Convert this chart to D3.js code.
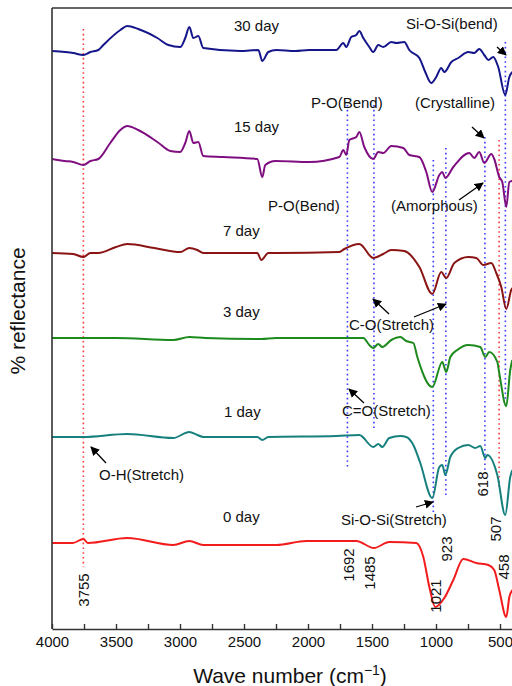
<!DOCTYPE html>
<html><head><meta charset="utf-8">
<script src="https://cdn.jsdelivr.net/npm/d3@7"></script>
<style>
html,body{margin:0;padding:0;background:#fff;}
svg{display:block;font-family:"Liberation Sans",Arial,Helvetica,sans-serif;}
</style></head>
<body><svg id="chart" width="512" height="686"></svg>
<script>
// ---------- DATA (wavenumber cm^-1, reflectance a.u. with stacking offset) ----------
const day30 = [[4000,578],[3900,577],[3834,576],[3755,574],[3700,577],[3638,579],[3599,584],[3466,599],[3412,603],[3326,600],[3177,591],[3091,584],[2998,582],[2959,591],[2927,602],[2896,591],[2857,593],[2818,581],[2529,578],[2388,579],[2357,568],[2310,577],[2248,579],[2100,578],[1990,579],[1779,579],[1724,586],[1701,582],[1662,592],[1623,594],[1599,598],[1568,591],[1521,582],[1490,577],[1451,584],[1412,582],[1349,587],[1310,586],[1248,587],[1209,579],[1130,571],[1084,557],[1037,546],[998,552],[959,561],[935,557],[880,567],[826,571],[748,577],[701,576],[662,580],[623,574],[591,569],[553,572],[514,562],[459,534],[427,552],[404,557]];
const day15 = [[4000,470],[3900,468],[3834,467],[3755,464],[3700,468],[3638,470],[3545,486],[3466,499],[3412,503],[3326,499],[3177,487],[3076,478],[2998,477],[2959,486],[2927,498],[2896,486],[2857,487],[2818,473],[2662,472],[2396,470],[2357,452],[2334,464],[2255,468],[1990,467],[1755,472],[1724,479],[1701,474],[1677,489],[1623,492],[1599,497],[1560,482],[1490,470],[1451,477],[1412,476],[1349,483],[1255,481],[1209,474],[1130,472],[1076,457],[1029,437],[974,454],[951,457],[927,451],[865,462],[740,476],[701,471],[662,477],[623,466],[568,475],[545,470],[506,452],[482,447],[451,422],[427,447],[404,448]];
const day7 = [[4000,376],[3834,375],[3755,372],[3700,376],[3638,376],[3500,382],[3412,385],[3200,381],[2998,377],[2927,381],[2865,379],[2818,376],[2396,376],[2365,369],[2310,376],[2248,376],[1755,377],[1716,380],[1599,385],[1490,371],[1412,375],[1349,379],[1248,378],[1130,362],[1029,335],[959,357],[920,351],[857,366],[748,372],[685,371],[630,364],[568,366],[529,356],[490,342],[451,320],[412,339],[404,341]];
const day3 = [[4000,291],[3755,291],[3500,291],[3052,289],[2927,292],[2800,291],[2365,290],[2248,291],[1779,291],[1568,291],[1521,284],[1490,281],[1451,285],[1420,282],[1349,289],[1279,292],[1232,288],[1177,286],[1146,272],[1029,242],[951,267],[920,257],[888,272],[834,279],[748,284],[654,282],[615,272],[584,277],[521,267],[506,256],[451,223],[420,259],[404,269]];
const day1 = [[4000,192],[3755,192],[3412,195],[3052,191],[2927,197],[2865,194],[2818,192],[2396,192],[2357,189],[2310,192],[1779,193],[1599,194],[1490,182],[1451,185],[1420,182],[1365,191],[1279,193],[1232,192],[1177,184],[1123,166],[1029,131],[974,162],[951,164],[927,154],[888,172],[826,181],[748,184],[693,181],[654,183],[615,171],[599,174],[521,154],[459,114],[420,152],[404,159]];
const day0 = [[4000,86],[3838,86],[3755,90],[3720,86],[3412,91],[3052,84],[2927,88],[2818,84],[2248,84],[2013,88],[1623,88],[1485,81],[1365,87],[1154,86],[1099,72],[1052,42],[1006,22],[935,31],[865,49],[787,70],[685,66],[591,64],[545,59],[506,39],[451,12],[427,32],[404,39]];

const seriesNames = ["30 day","15 day","7 day","3 day","1 day","0 day"];
const seriesData = [day30, day15, day7, day3, day1, day0];
const seriesColors = ["#15168a","#7f0f80","#8a1414","#1d8a1d","#16807e","#f21c1c"];

const xTicks = [4000,3500,3000,2500,2000,1500,1000,500];
const xMinorTicks = [3750,3250,2750,2250,1750,1250,750];
const markerWn = [3755,1692,1485,1021,923,618,507,458];
const markerColor = ["#ff3b3b","#3b3bff","#3b3bff","#3b3bff","#3b3bff","#3b3bff","#ff3b3b","#3b3bff"];

// ---------- LAYOUT ----------
const svg = d3.select("#chart");
const L = 52, R = 512.8, T = 8, B = 629;
const x = d3.scaleLinear().domain([4000,400]).range([L,R]);
const y = d3.scaleLinear().domain([0,621]).range([B,T]);

// marker line vertical extents (pixels)
const markerSpan = [[29,567],[105,468],[105,428],[160,513],[148,495],[137,472],[140,487],[42,400]];
markerWn.forEach((w,i)=>{
  svg.append("line").attr("x1",x(w)).attr("x2",x(w))
    .attr("y1",markerSpan[i][0]).attr("y2",markerSpan[i][1])
    .attr("stroke",markerColor[i]).attr("stroke-width",1.6)
    .attr("stroke-dasharray","1.6,3.2");
});

// spectra
const line = d3.line().x(d=>x(d[0])).y(d=>y(d[1])).curve(d3.curveMonotoneX);
seriesData.forEach((s,i)=>{
  svg.append("path").datum(s).attr("d",line).attr("fill","none")
    .attr("stroke",seriesColors[i]).attr("stroke-width",2).attr("stroke-linejoin","round");
});

// frame
svg.append("line").attr("x1",L).attr("x2",L).attr("y1",T).attr("y2",B).attr("stroke","#333").attr("stroke-width",1.6);
svg.append("line").attr("x1",L).attr("x2",512).attr("y1",T).attr("y2",T).attr("stroke","#333").attr("stroke-width",1.6);

// x axis
const ax = svg.append("g").attr("transform",`translate(0,${B})`)
  .call(d3.axisBottom(x).tickValues(xTicks).tickSize(-5).tickSizeOuter(0).tickPadding(7).tickFormat(d3.format("d")));
ax.select(".domain").attr("stroke","#333").attr("stroke-width",1.6);
ax.selectAll(".tick line").attr("stroke","#333").attr("stroke-width",1.4);
ax.selectAll(".tick text").attr("font-size",15).attr("fill","#111").attr("font-family","Liberation Sans, Arial, sans-serif");
const axm = svg.append("g").attr("transform",`translate(0,${B})`)
  .call(d3.axisBottom(x).tickValues(xMinorTicks).tickSize(-5).tickSizeOuter(0).tickFormat(""));
axm.select(".domain").remove();
axm.selectAll(".tick line").attr("stroke","#333").attr("stroke-width",1.4);

// axis titles
const xt = svg.append("text").attr("x",290).attr("y",683).attr("text-anchor","middle")
  .attr("font-size",21).attr("fill","#111");
xt.append("tspan").text("Wave number (cm");
xt.append("tspan").attr("font-size",14).attr("dy",-8).text("\u22121");
xt.append("tspan").attr("dy",8).text(")");
svg.append("text").attr("transform","translate(25,311) rotate(-90)").attr("text-anchor","middle")
  .attr("font-size",21).attr("fill","#111").text("% reflectance");

// text annotations (x start, y centre)
const notes = [
  ["30 day",234,26],["Si-O-Si(bend)",406,24],["P-O(Bend)",311,103],["(Crystalline)",415,103],
  ["15 day",234,127],["P-O(Bend)",268,206],["(Amorphous)",391,206],["7 day",223,231],
  ["3 day",223,312],["C-O(Stretch)",349,325],["C=O(Stretch)",342,411],["1 day",224,412],
  ["O-H(Stretch)",99,475],["0 day",223,517],["Si-O-Si(Stretch)",341,520]
];
notes.forEach(n=>{
  svg.append("text").attr("x",n[1]).attr("y",n[2]+5.2).attr("font-size",15).attr("fill","#111").text(n[0]);
});

// rotated wavenumber labels (centre x, centre y)
const rot = [["3755",84,590],["1692",349,565],["1485",370,573],["923",447,549],["1021",436,596],["618",483,484],["507",496,529],["458",504,567]];
rot.forEach(r=>{
  svg.append("text").attr("transform",`translate(${r[1]+5.2},${r[2]}) rotate(-90)`)
    .attr("text-anchor","middle").attr("font-size",15).attr("fill","#111").text(r[0]);
});

// arrows
const defs = svg.append("defs");
defs.append("marker").attr("id","ah").attr("viewBox","0 0 10 10").attr("refX",9).attr("refY",5)
  .attr("markerWidth",9).attr("markerHeight",9).attr("markerUnits","userSpaceOnUse").attr("orient","auto")
  .append("path").attr("d","M0,0 L10,5 L0,10 Z").attr("fill","#000");
const arrows = [[497,47,506,55],[472,127,484,138],[459,200,483,183],[389,314,373,299],[414,317,446,304],[364,403,349,389],[106,463,91,447],[416,507,433,502]];
arrows.forEach(a=>{
  svg.append("line").attr("x1",a[0]).attr("y1",a[1]).attr("x2",a[2]).attr("y2",a[3])
    .attr("stroke","#000").attr("stroke-width",1.3).attr("marker-end","url(#ah)");
});
</script></body></html>
